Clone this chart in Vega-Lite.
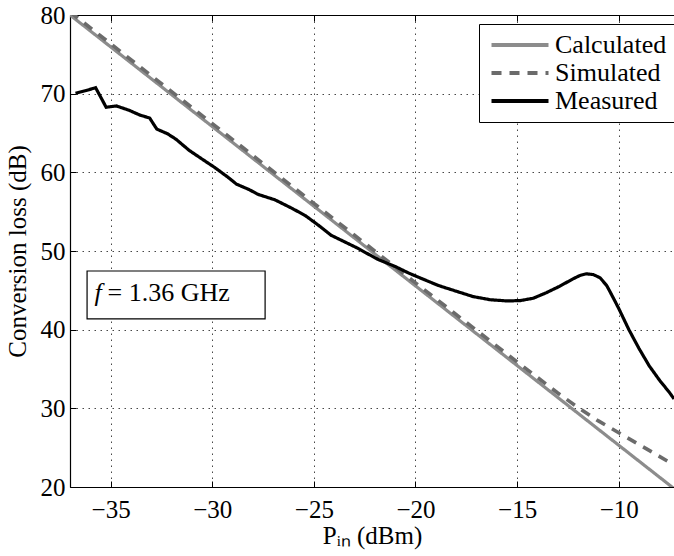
{
  "$schema": "https://vega.github.io/schema/vega-lite/v6.json",
  "width": 604,
  "height": 472,
  "autosize": {"type": "none"},
  "padding": {"left": 70, "top": 15, "right": 0, "bottom": 69},
  "config": {
    "view": {"stroke": null},
    "font": "Liberation Serif",
    "axis": {
      "labelFont": "Liberation Serif",
      "labelFontSize": 25,
      "labelColor": "black",
      "titleFont": "Liberation Serif",
      "titleFontSize": 25,
      "titleFontWeight": "normal",
      "titleColor": "black",
      "domainColor": "black",
      "domainWidth": 1.2,
      "tickColor": "black",
      "tickSize": -6,
      "tickWidth": 1,
      "gridColor": "#333333",
      "gridDash": [1.5, 4.5],
      "gridOpacity": 0.9,
      "gridWidth": 1
    },
    "legend": {
      "labelFont": "Liberation Serif",
      "labelFontSize": 26,
      "labelColor": "black",
      "strokeColor": "black",
      "fillColor": "white",
      "padding": 8,
      "rowPadding": 2,
      "symbolType": "M-3,0H3",
      "symbolSize": 361,
      "symbolStrokeWidth": 4,
      "symbolOffset": 20,
      "labelOffset": 22
    }
  },
  "data": {
    "values": [
      {"series": "Calculated", "x": -37, "y": 80},
      {"series": "Calculated", "x": -7.28, "y": 19.8},
      {"series": "Simulated", "x": -37, "y": 80.4},
      {"series": "Simulated", "x": -30, "y": 66.2},
      {"series": "Simulated", "x": -25, "y": 56.05},
      {"series": "Simulated", "x": -20, "y": 45.95},
      {"series": "Simulated", "x": -15, "y": 35.9},
      {"series": "Simulated", "x": -13, "y": 31.95},
      {"series": "Simulated", "x": -12, "y": 30.1},
      {"series": "Simulated", "x": -11, "y": 28.4},
      {"series": "Simulated", "x": -10, "y": 26.9},
      {"series": "Simulated", "x": -9, "y": 25.4},
      {"series": "Simulated", "x": -8, "y": 23.9},
      {"series": "Simulated", "x": -7.28, "y": 22.8},
      {"series": "Measured", "x": -36.73, "y": 70.05},
      {"series": "Measured", "x": -36.2, "y": 70.4},
      {"series": "Measured", "x": -35.74, "y": 70.76},
      {"series": "Measured", "x": -35.22, "y": 68.27},
      {"series": "Measured", "x": -34.72, "y": 68.44},
      {"series": "Measured", "x": -34.1, "y": 67.9},
      {"series": "Measured", "x": -33.58, "y": 67.3},
      {"series": "Measured", "x": -33.08, "y": 66.9},
      {"series": "Measured", "x": -32.73, "y": 65.5},
      {"series": "Measured", "x": -32.2, "y": 64.9},
      {"series": "Measured", "x": -31.78, "y": 64.2},
      {"series": "Measured", "x": -31.14, "y": 62.8},
      {"series": "Measured", "x": -30.51, "y": 61.7},
      {"series": "Measured", "x": -29.87, "y": 60.6},
      {"series": "Measured", "x": -29.24, "y": 59.4},
      {"series": "Measured", "x": -28.81, "y": 58.5},
      {"series": "Measured", "x": -28.18, "y": 57.8},
      {"series": "Measured", "x": -27.75, "y": 57.2},
      {"series": "Measured", "x": -26.91, "y": 56.5},
      {"series": "Measured", "x": -26.06, "y": 55.4},
      {"series": "Measured", "x": -25.42, "y": 54.5},
      {"series": "Measured", "x": -24.79, "y": 53.3},
      {"series": "Measured", "x": -24.15, "y": 52.0},
      {"series": "Measured", "x": -23.52, "y": 51.2},
      {"series": "Measured", "x": -22.88, "y": 50.4},
      {"series": "Measured", "x": -22.25, "y": 49.5},
      {"series": "Measured", "x": -21.82, "y": 48.9},
      {"series": "Measured", "x": -20.97, "y": 48.0},
      {"series": "Measured", "x": -20.34, "y": 47.2},
      {"series": "Measured", "x": -19.7, "y": 46.5},
      {"series": "Measured", "x": -18.86, "y": 45.6},
      {"series": "Measured", "x": -18.01, "y": 44.9},
      {"series": "Measured", "x": -17.16, "y": 44.2},
      {"series": "Measured", "x": -16.31, "y": 43.8},
      {"series": "Measured", "x": -15.47, "y": 43.65},
      {"series": "Measured", "x": -14.83, "y": 43.7},
      {"series": "Measured", "x": -14.2, "y": 44.0},
      {"series": "Measured", "x": -13.56, "y": 44.7},
      {"series": "Measured", "x": -12.92, "y": 45.5},
      {"series": "Measured", "x": -12.29, "y": 46.4},
      {"series": "Measured", "x": -11.9, "y": 46.9},
      {"series": "Measured", "x": -11.6, "y": 47.1},
      {"series": "Measured", "x": -11.25, "y": 47.0},
      {"series": "Measured", "x": -10.92, "y": 46.6},
      {"series": "Measured", "x": -10.59, "y": 45.6},
      {"series": "Measured", "x": -10.3, "y": 44.2},
      {"series": "Measured", "x": -10.0, "y": 42.7},
      {"series": "Measured", "x": -9.5, "y": 40.0},
      {"series": "Measured", "x": -9.0, "y": 37.6},
      {"series": "Measured", "x": -8.5, "y": 35.4},
      {"series": "Measured", "x": -8.0, "y": 33.6},
      {"series": "Measured", "x": -7.5, "y": 32.0},
      {"series": "Measured", "x": -7.28, "y": 31.2}
    ]
  },
  "layer": [
    {
      "transform": [{"filter": "datum.series === 'Calculated'"}],
      "mark": {"type": "line", "strokeWidth": 3.2, "clip": true},
      "encoding": {
        "x": {
          "field": "x", "type": "quantitative",
          "scale": {"domain": [-37, -7.28], "nice": false, "zero": false},
          "axis": {"orient": "bottom", "values": [-35, -30, -25, -20, -15, -10], "title": "Pᵢₙ (dBm)", "grid": true, "labelPadding": 16, "titlePadding": 1}
        },
        "y": {
          "field": "y", "type": "quantitative",
          "scale": {"domain": [20, 80], "nice": false, "zero": false},
          "axis": {"values": [20, 30, 40, 50, 60, 70, 80], "title": "Conversion loss (dB)", "grid": true, "labelPadding": 11, "labelFlush": false, "titlePadding": 10}
        },
        "color": {
          "field": "series", "type": "nominal",
          "scale": {"domain": ["Calculated", "Simulated", "Measured"], "range": ["#8c8c8c", "#6b6b6b", "#000000"]},
          "legend": {"title": null, "orient": "none", "legendX": 409, "legendY": 9}
        },
        "strokeDash": {
          "field": "series", "type": "nominal",
          "scale": {"domain": ["Calculated", "Simulated", "Measured"], "range": [[1, 0], [10, 8], [1, 0]]},
          "legend": {"title": null, "orient": "none", "legendX": 409, "legendY": 9}
        }
      }
    },
    {
      "transform": [{"filter": "datum.series === 'Simulated'"}],
      "mark": {"type": "line", "strokeWidth": 3.6, "clip": true},
      "encoding": {
        "x": {
          "field": "x", "type": "quantitative",
          "axis": {"orient": "top", "values": [-35, -30, -25, -20, -15, -10], "labels": false, "title": null, "grid": false}
        },
        "y": {"field": "y", "type": "quantitative"},
        "color": {"field": "series", "type": "nominal"},
        "strokeDash": {"field": "series", "type": "nominal"}
      }
    },
    {
      "transform": [{"filter": "datum.series === 'Measured'"}],
      "mark": {"type": "line", "strokeWidth": 3.2, "clip": true},
      "encoding": {
        "x": {"field": "x", "type": "quantitative", "axis": null},
        "y": {"field": "y", "type": "quantitative"},
        "color": {"field": "series", "type": "nominal"},
        "strokeDash": {"field": "series", "type": "nominal"}
      }
    },
    {
      "data": {"values": [{"x1": -36.16, "x2": -27.4, "y1": 47.46, "y2": 41.36}]},
      "mark": {"type": "rect", "fill": "white", "stroke": "black", "strokeWidth": 1.2},
      "encoding": {
        "x": {"field": "x1", "type": "quantitative", "axis": null},
        "x2": {"field": "x2"},
        "y": {"field": "y1", "type": "quantitative"},
        "y2": {"field": "y2"}
      }
    },
    {
      "data": {"values": [{"x": -35.8, "y": 43.7, "t": "f"}]},
      "mark": {"type": "text", "align": "left", "baseline": "alphabetic", "font": "Liberation Serif", "fontSize": 26, "fontStyle": "italic", "color": "black"},
      "encoding": {
        "x": {"field": "x", "type": "quantitative", "axis": null},
        "y": {"field": "y", "type": "quantitative"},
        "text": {"field": "t"}
      }
    },
    {
      "data": {"values": [{"x": -35.15, "y": 43.7, "t": "= 1.36 GHz"}]},
      "mark": {"type": "text", "align": "left", "baseline": "alphabetic", "font": "Liberation Serif", "fontSize": 26, "color": "black"},
      "encoding": {
        "x": {"field": "x", "type": "quantitative", "axis": null},
        "y": {"field": "y", "type": "quantitative"},
        "text": {"field": "t"}
      }
    }
  ],
  "resolve": {"axis": {"x": "independent"}}
}
